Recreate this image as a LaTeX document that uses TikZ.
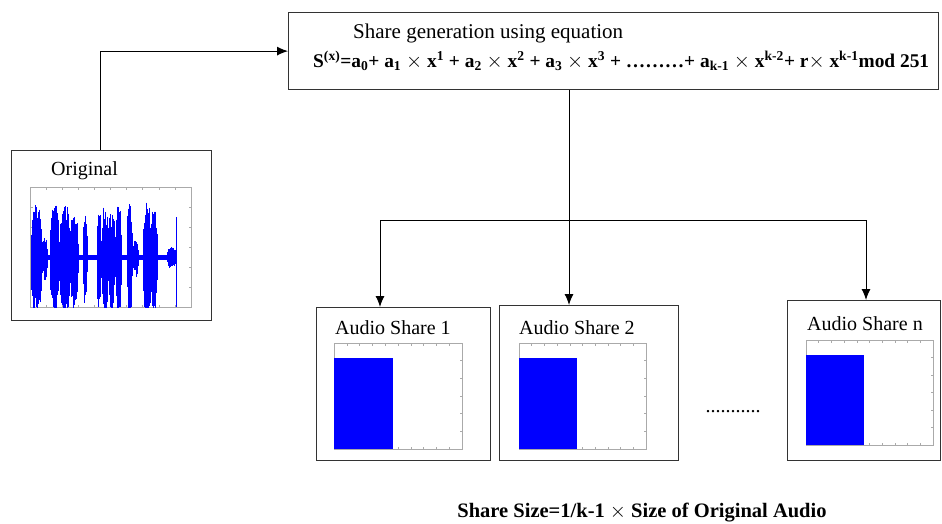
\documentclass[tikz,border=0pt]{standalone}
\usepackage{fontspec}
\setmainfont{Liberation Serif}
\usetikzlibrary{arrows.meta}
\definecolor{frame}{HTML}{333333}
\definecolor{axisgray}{HTML}{AAAAAA}
\tikzset{
  panel/.style={draw=frame, line width=1.2pt, fill=white, anchor=north west, inner sep=0pt},
  conn/.style={line width=1pt, black},
  arr/.style={conn, -{Latex[length=11pt,width=9pt]}},
  plotframe/.style={draw=axisgray, line width=0.8pt},
  lbl/.style={font=\fontsize{20}{22}\selectfont, inner sep=0pt, anchor=west},
}
\newcommand{\axisbox}[4]{% x1, y1, x2, y2 : frame with small inward ticks
  \draw[plotframe] (#1,#2) rectangle (#3,#4);
  \foreach \k in {1,...,9}{
    \pgfmathsetmacro\tx{#1+(#3-#1)*\k/10}
    \draw[axisgray, line width=0.5pt] (\tx,#2) -- (\tx,#2+2.5);
    \draw[axisgray, line width=0.5pt] (\tx,#4) -- (\tx,#4-2.5);
  }
  \foreach \k in {1,...,5}{
    \pgfmathsetmacro\ty{#2+(#4-#2)*\k/6}
    \draw[axisgray, line width=0.5pt] (#3,\ty) -- (#3-2.5,\ty);
    \draw[axisgray, line width=0.5pt] (#1,\ty) -- (#1+2.5,\ty);
  }
}
\begin{document}
\begin{tikzpicture}[x=1pt, y=-1pt]
\useasboundingbox (0,0) rectangle (942,523);

% --- boxes ---
\node[panel, minimum width=650pt, minimum height=77pt] (eq) at (288,12) {};
\node[panel, minimum width=200pt, minimum height=170pt] (orig) at (11,150) {};
\node[panel, minimum width=174pt, minimum height=153pt] (s1) at (316,307) {};
\node[panel, minimum width=179pt, minimum height=155pt] (s2) at (499,305) {};
\node[panel, minimum width=153pt, minimum height=160pt] (sn) at (787,300) {};

% --- equation box text ---
\node[lbl, font=\fontsize{21}{22}\selectfont] (eqtitle) at (353,33) {Share generation using equation};
\node[inner sep=0pt, anchor=west, font=\fontsize{19.4}{20}\selectfont\bfseries] (eqtext) at (313,61)
  {S\textsuperscript{(x)}=a\textsubscript{0}+ a\textsubscript{1} $\times$ x\textsuperscript{1} + a\textsubscript{2} $\times$ x\textsuperscript{2} + a\textsubscript{3} $\times$ x\textsuperscript{3} + \ldots\ldots\ldots+ a\textsubscript{k-1} $\times$ x\textsuperscript{k-2}+ r$\times$ x\textsuperscript{k-1}mod 251};

% --- original audio panel ---
\node[lbl] (origlbl) at (51,171) {Original};
\axisbox{30}{187}{191}{307}
\pgfmathsetseed{11}
\begin{scope}
  \clip (30,187) rectangle (191,307);
  \fill[blue] (31,255) rectangle (176,259.5);
  % speech bursts: start / end / peak amplitude
  \foreach \a/\b/\h in {31/42/54, 43/47/22, 50/59/54, 60/70/54, 70/78/46, 83/87/42,
                        97/101/50, 102/108/54, 108/115/46, 116/121/56, 127/132/56,
                        133/138/18, 143/151/56, 151/157/50, 167/176/10}{
    \pgfmathtruncatemacro\n{3*(\b-\a)}
    \foreach \i in {0,...,\n}{
      \pgfmathsetmacro\x{\a+\i/3}
      \pgfmathsetmacro\env{sin(180*(\i+0.5)/(\n+1))^0.3}
      \pgfmathsetmacro\up{\h*\env*(0.6+0.4*rnd)}
      \pgfmathsetmacro\dn{\h*\env*(0.65+0.5*rnd)}
      \draw[blue, line width=0.8pt] (\x,257-\up) -- (\x,257+\dn);
    }
  }
  \draw[blue, line width=0.5pt] (176,217) -- (176,307);
\end{scope}

% --- share panels ---
\node[lbl] (l1) at (335,328) {Audio Share 1};
\axisbox{334}{343}{462}{449}
\fill[blue] (334,358) rectangle (393,449);

\node[lbl] (l2) at (519,328) {Audio Share 2};
\axisbox{519}{343}{646}{449}
\fill[blue] (519,358) rectangle (577,449);

\node[lbl] (ln) at (807,324) {Audio Share n};
\axisbox{806}{340}{933}{445}
\fill[blue] (806,355) rectangle (864,445);

\node[font=\fontsize{20}{22}\selectfont, inner sep=0pt] (dots) at (733,412) {...........};

% --- connectors ---
\draw[arr] ([xshift=-11pt]orig.north) |- (eq.west);
\coordinate (split) at (569,220);
\coordinate (j1) at (380,220);
\coordinate (jn) at (866,220);
\draw[conn] (eq.south -| split) -- (split);
\draw[conn] (j1) -- (jn);
\draw[arr] (j1) -- (j1 |- s1.north);
\draw[arr] (split) -- (split |- s2.north);
\draw[arr] (jn) -- (jn |- sn.north);

% --- caption ---
\node[inner sep=0pt, font=\fontsize{20.5}{22}\selectfont\bfseries] (caption) at (642,513)
  {Share Size=1/k-1 $\times$ Size of Original Audio};
\end{tikzpicture}
\end{document}
